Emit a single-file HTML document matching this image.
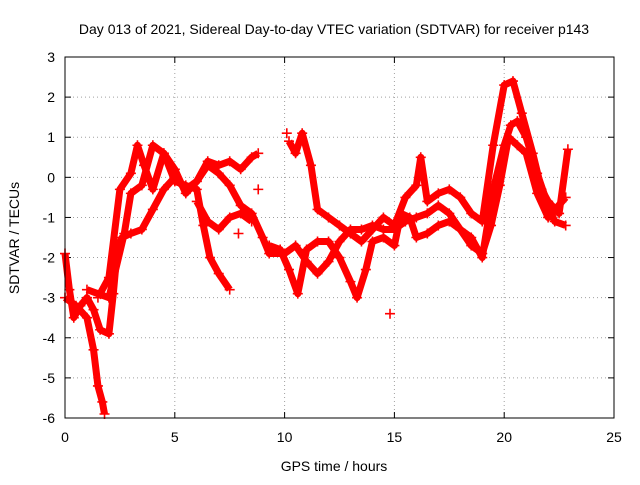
<!DOCTYPE html>
<html><head><meta charset="utf-8"><style>
body{margin:0;background:#fff;}
svg text{font-family:"Liberation Sans",sans-serif;font-size:14px;fill:#000;}
</style></head><body>
<svg id="chart" width="640" height="480" xmlns="http://www.w3.org/2000/svg">
<text x="334" y="34" text-anchor="middle">Day 013 of 2021, Sidereal Day-to-day VTEC variation (SDTVAR) for receiver p143</text>
<text x="334" y="471" text-anchor="middle">GPS time / hours</text>
<text transform="translate(19,238) rotate(-90)" text-anchor="middle">SDTVAR / TECUs</text>
<g id="grid"></g><g id="ticks"></g><g id="series"></g>
<rect x="65" y="57" width="549" height="361" fill="none" stroke="#000" stroke-width="1"/>
</svg>
<script>
const xTicks=[0,5,10,15,20,25];
const yTicks=[3,2,1,0,-1,-2,-3,-4,-5,-6];
const track1=[[0,-1.9],[0.2,-2.8],[0.4,-3.5],[0.7,-3.2],[1,-3.0],[1.3,-3.3],[1.6,-3.8],[2,-3.9],[2.2,-2.9],[2.4,-1.7],[2.6,-1.5],[3,-1.4],[3.5,-1.3],[4,-0.8],[4.5,-0.3],[5,0],[5.5,-0.3],[6,-0.1],[6.5,0.3],[7,0.1],[7.5,-0.2],[8,-0.7],[8.5,-0.9],[9,-1.5],[9.3,-1.9],[10,-1.9],[10.5,-1.7],[11,-2.1],[11.5,-2.4],[12,-2.1],[12.5,-1.6],[13,-1.3],[13.5,-1.3],[14,-1.2],[14.5,-1.3],[15,-1.3],[15.5,-1.1],[16,-1.0],[16.5,-0.9],[17,-0.7],[17.5,-0.9],[18,-1.3],[18.5,-1.5],[19,-2.0],[19.5,-0.3],[20,0.8],[20.3,1.3],[20.6,1.4],[21,1.0],[21.5,0.1],[22,-0.7],[22.3,-1.1],[22.8,-1.2]];
const track2a=[[0,-3.0],[0.5,-3.2],[1,-3.5],[1.3,-4.3],[1.5,-5.2],[1.7,-5.6],[1.8,-5.9]];
const track2b=[[1.5,-3.0],[2,-2.5],[2.5,-0.3],[3,0.1],[3.3,0.8],[3.6,0.3],[4,-0.3],[4.5,0.6],[5,0.2],[5.5,-0.4],[6,-0.1],[6.5,0.4],[7,0.3],[7.5,0.4],[8,0.2],[8.5,0.5],[8.8,0.6]];
const track2c=[[10.2,0.9],[10.5,0.6],[10.8,1.1],[11.2,0.3],[11.5,-0.8],[12,-1.0],[12.5,-1.2],[13,-1.4],[13.5,-1.6],[14,-1.3],[14.5,-1.0],[15,-1.2],[15.5,-0.5],[16,-0.2],[16.2,0.5],[16.5,-0.6],[17,-0.4],[17.5,-0.3],[18,-0.5],[18.5,-0.9],[19,-1.1],[19.5,0.8],[20,2.3],[20.4,2.4],[20.8,1.6],[21.3,0.6],[21.7,-0.3],[22,-0.6],[22.5,-0.9],[22.9,0.7]];
const track3a=[[1,-2.8],[2,-3.0],[2.7,-1.4],[3,-0.4],[3.5,-0.2],[4,0.8],[4.5,0.6],[5,-0.1],[5.5,-0.2],[6,-0.3],[6.3,-1.2],[6.6,-2.0],[7,-2.4],[7.5,-2.8]];
const track3b=[[9.3,-1.7],[9.8,-1.8],[10.2,-2.3],[10.6,-2.9],[11,-1.8],[11.5,-1.6],[12,-1.6],[12.5,-2.0],[13,-2.6],[13.3,-3.0],[13.7,-2.3],[14,-1.6],[14.5,-1.5],[15,-1.7],[15.3,-0.9],[15.7,-1.0],[16,-1.5],[16.5,-1.4],[17,-1.2],[17.5,-1.1],[18,-1.3],[18.5,-1.7],[19,-1.9],[19.4,-1.2],[19.8,-0.2],[20.2,1.0],[20.6,0.8],[21,0.6],[21.5,-0.4],[22,-1.0],[22.8,-0.5]];
const track4=[[6,-0.6],[6.5,-1.1],[7,-1.3],[7.5,-1.0],[8,-0.9],[8.5,-1.1]];
const isolated=[[14.8,-3.4],[8.8,-0.3],[7.9,-1.4],[10.1,1.1]];
const tracks=[track1,track2a,track2b,track2c,track3a,track3b,track4];
const X=h=>65+h*549/25, Y=v=>57+(3-v)*361/9;
const NS="http://www.w3.org/2000/svg";
function mk(t,a,p){const e=document.createElementNS(NS,t);for(const k in a)e.setAttribute(k,a[k]);p.appendChild(e);return e;}
const grid=document.getElementById('grid'),ticks=document.getElementById('ticks'),ser=document.getElementById('series');
xTicks.forEach(t=>{const x=X(t);
 if(t>0&&t<25){const g=mk('line',{x1:x,x2:x,y1:57,y2:418,stroke:'#a0a0a0','stroke-dasharray':'1,3'},grid);}
 mk('line',{x1:x,x2:x,y1:418,y2:412,stroke:'#000'},ticks);mk('line',{x1:x,x2:x,y1:57,y2:63,stroke:'#000'},ticks);
 const l=mk('text',{x:x,y:442,'text-anchor':'middle'},ticks);l.textContent=t;});
yTicks.forEach(t=>{const y=Y(t);
 if(t<3&&t>-6){const g=mk('line',{x1:65,x2:614,y1:y,y2:y,stroke:'#a0a0a0','stroke-dasharray':'1,3'},grid);}
 mk('line',{x1:65,x2:71,y1:y,y2:y,stroke:'#000'},ticks);mk('line',{x1:614,x2:608,y1:y,y2:y,stroke:'#000'},ticks);
 const l=mk('text',{x:55,y:y+5,'text-anchor':'end'},ticks);l.textContent=t;});
function plus(h,v){const x=X(h),y=Y(v);mk('path',{d:`M${x-5},${y}h10M${x},${y-5}v10`,stroke:'#f00','stroke-width':1.6},ser);}
tracks.forEach(tr=>{
 const p=mk('polyline',{points:tr.map(d=>X(d[0])+','+Y(d[1])).join(' '),fill:'none',stroke:'#f00','stroke-width':7,'stroke-linejoin':'round'},ser);
 
 
 tr.forEach(d=>plus(d[0],d[1]));});
isolated.forEach(d=>plus(d[0],d[1]));
</script>
</body></html>
